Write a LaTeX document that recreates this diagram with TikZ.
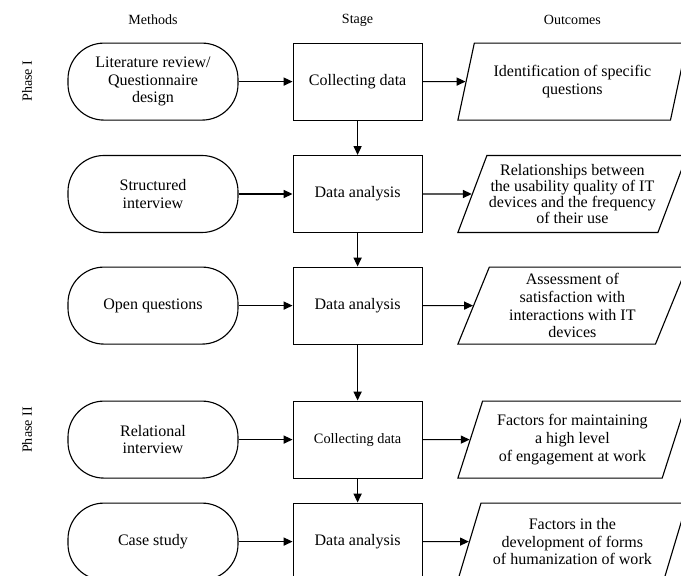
\documentclass[tikz,border=0pt]{standalone}
\usepackage{fontspec}
\setmainfont{Liberation Serif}
\usepackage{tikz}
\usetikzlibrary{shapes.geometric, arrows.meta, positioning}
\newcommand{\bodyfont}{\fontsize{11.4}{12.6}\selectfont}
\tikzstyle{method} = [rectangle, rounded corners=0.9cm, minimum width=4.25cm, minimum height=1.925cm, align=center, draw, line width=0.8pt, font=\bodyfont]
\tikzstyle{stage} = [rectangle, minimum width=3.225cm, minimum height=1.925cm, align=center, draw, line width=0.8pt, font=\bodyfont]
\tikzstyle{outcome} = [trapezium, trapezium left angle=65, trapezium right angle=115, trapezium stretches body, minimum width=5.725cm, minimum height=1.925cm, inner sep=1pt, align=center, draw, line width=0.8pt, font=\bodyfont]
\tikzstyle{header} = [font=\fontsize{10}{12}\selectfont]
\tikzstyle{arrow} = [line width=0.8pt, -{Triangle[length=2.2mm, width=2mm]}]

\begin{document}
\begin{tikzpicture}
    \clip (0, 0) rectangle (17.025, 14.4);

    % Column headers
    \node[header] (hmeth) at (3.825, 13.9) {Methods};
    \node[header] (hstage) at (8.94, 13.9) {Stage};
    \node[header] (hout) at (14.31, 13.9) {Outcomes};

    % Phase labels
    \node[header, rotate=90] (ph1) at (0.675, 12.37) {Phase I};
    \node[header, rotate=90] (ph2) at (0.675, 3.65) {Phase II};

    % Methods
    \node[method] (m1) at (3.825, 12.36) {Literature review/\\Questionnaire\\design};
    \node[method] (m2) at (3.825, 9.55) {Structured\\interview};
    \node[method] (m3) at (3.825, 6.76) {Open questions};
    \node[method] (m4) at (3.825, 3.41) {Relational\\interview};
    \node[method] (m5) at (3.825, 0.86) {Case study};

    % Stages
    \node[stage] (s1) at (8.94, 12.36) {Collecting data};
    \node[stage] (s2) at (8.94, 9.55) {Data analysis};
    \node[stage] (s3) at (8.94, 6.76) {Data analysis};
    \node[stage, font=\fontsize{10.2}{12}\selectfont] (s4) at (8.94, 3.41) {Collecting data};
    \node[stage] (s5) at (8.94, 0.86) {Data analysis};

    % Outcomes
    \node[outcome] (o1) at (14.31, 12.36) {Identification of specific\\questions};
    \node[outcome, font=\fontsize{11.4}{11.4}\selectfont] (o2) at (14.31, 9.55) {Relationships between\\the usability quality of IT\\devices and the frequency\\of their use};
    \node[outcome] (o3) at (14.31, 6.76) {Assessment of\\satisfaction with\\interactions with IT\\devices};
    \node[outcome] (o4) at (14.31, 3.41) {Factors for maintaining\\a high level\\of engagement at work};
    \node[outcome] (o5) at (14.31, 0.86) {Factors in the\\development of forms\\of humanization of work};

    % Arrows
    \foreach \i in {1,...,5} {
        \draw[arrow] (m\i) -- (s\i);
        \draw[arrow] (s\i) -- (o\i);
    }
    \draw[arrow] (s1) -- (s2);
    \draw[arrow] (s2) -- (s3);
    \draw[arrow] (s3) -- (s4);
    \draw[arrow] (s4) -- (s5);
\end{tikzpicture}
\end{document}
